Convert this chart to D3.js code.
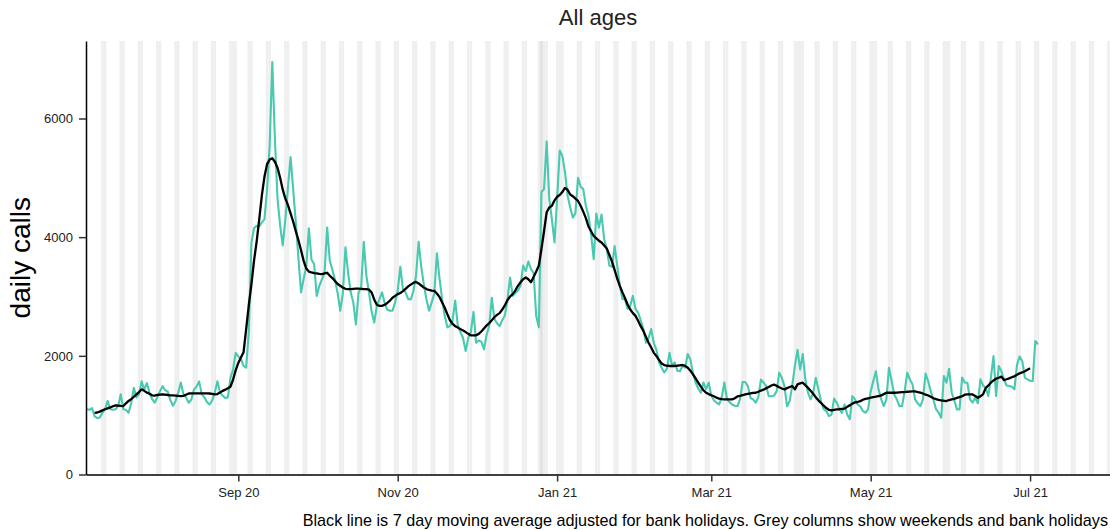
<!DOCTYPE html>
<html>
<head>
<meta charset="utf-8">
<script src="https://cdn.jsdelivr.net/npm/d3@7"></script>
<style>
  body { margin: 0; background: #fff; }
  text { font-family: "Liberation Sans", Arial, sans-serif; }
</style>
</head>
<body>
<div id="chart"></div>
<script>
// daily calls, one value per day starting 5 Jul 2020
var callsStart = "2020-07-05";
var dailyCalls = [
  1100, 1090, 1120, 980, 950, 960, 1040,
  1100, 1240, 1100, 1090, 1100, 1150, 1350,
  1100, 1090, 1040, 1200, 1460, 1300, 1350,
  1570, 1430, 1540, 1380, 1270, 1210, 1300,
  1400, 1490, 1420, 1400, 1250, 1160, 1240,
  1380, 1550, 1350, 1300, 1210, 1260, 1430,
  1480, 1570, 1350, 1300, 1220, 1180, 1250,
  1380, 1570, 1380, 1330, 1290, 1300, 1630,
  1770, 2050, 1990, 1950, 1830, 1800, 2400,
  3900, 4150, 4190, 4180, 4250, 4300, 4800,
  5550, 6950, 5650, 4650, 4200, 3860, 4300,
  4850, 5350, 4800, 4250, 3650, 3070, 3300,
  3500, 4150, 3620, 3550, 3010, 3180, 3290,
  3400, 4160, 3600, 3450, 3280, 3060, 2760,
  3050, 3830, 3400, 3070, 2900, 2530, 3060,
  3150, 3920, 3350, 3070, 2750, 2560, 2840,
  2950, 3070, 2890, 2780, 2760, 2760, 2900,
  3100, 3500, 3120, 3070, 2960, 2950, 3090,
  3350, 3920, 3500, 3200, 2950, 2760, 2900,
  3050, 3730, 3300, 2950, 2670, 2480, 2500,
  2600, 2930, 2500, 2400, 2300, 2080, 2300,
  2400, 2740, 2220, 2260, 2240, 2110, 2350,
  2500, 2980, 2620, 2550, 2500, 2600, 2680,
  2950, 3320, 3010, 3060, 3100, 3180, 3520,
  3430, 3590, 3460, 3400, 2670, 2480, 4760,
  4810, 5610, 4640, 4300, 3910, 4650, 5460,
  5370, 5100, 4700, 4500, 4330, 4400, 5000,
  4850, 4810, 4530, 4360, 4050, 3630, 4400,
  4160, 4380, 3970, 3800, 3520, 3500, 3850,
  3520, 3180, 2960, 2950, 2790, 2850, 3010,
  2790, 2730, 2600, 2450, 2220, 2300, 2450,
  2220, 2100, 1890, 1800, 1720, 1780, 2050,
  1830, 1890, 1750, 1740, 1830, 1800, 2030,
  1940, 1700, 1550, 1450, 1380, 1550, 1440,
  1550, 1330, 1250, 1210, 1180, 1300, 1550,
  1270, 1220, 1180, 1160, 1150, 1270, 1560,
  1560, 1490, 1290, 1266, 1210, 1300, 1600,
  1550, 1490, 1320, 1320, 1330, 1400, 1716,
  1630, 1490, 1150, 1240, 1500, 1830, 2100,
  1770, 2030, 1600, 1380, 1266, 1380, 1630,
  1435, 1230, 1100, 1070, 985, 1010, 1280,
  1210, 1100, 1040, 1180, 1013, 930, 1320,
  1266, 1180, 1150, 1070, 1041, 1097, 1400,
  1575, 1740, 1435, 1270, 1153, 1266, 1800,
  1580, 1350, 1266, 1153, 1153, 1400, 1716,
  1600, 1519, 1266, 1200, 1153, 1266, 1700,
  1570, 1400, 1266, 1100, 1041, 957, 1660,
  1547, 1783, 1378, 1250, 1097, 1097, 1632,
  1550, 1547, 1266, 1210, 1294, 1200, 1604,
  1500, 1463, 1322, 1632, 1997, 1322, 1829,
  1744, 1600, 1500, 1491, 1480, 1435, 1850,
  1990, 1913, 1632, 1604, 1580, 1575, 2251,
  2195
];

// 7 day moving average, one value per day starting 8 Jul 2020
var avgStart = "2020-07-08";
var movingAvg = [
  1040, 1045, 1060, 1080, 1100, 1115, 1130, 1150, 1165, 1160,
  1155, 1153, 1200, 1240, 1270, 1310, 1350, 1390, 1435, 1410,
  1380, 1360, 1335, 1330, 1340, 1345, 1350, 1345, 1340, 1335,
  1333, 1330, 1325, 1322, 1325, 1345, 1365, 1367, 1367, 1367,
  1367, 1367, 1367, 1367, 1365, 1360, 1352, 1355, 1380, 1410,
  1430, 1455, 1480, 1600, 1760, 1880, 1970, 2060, 2450, 2850,
  3200, 3600, 3920, 4300, 4700, 5020, 5230, 5310, 5330, 5270,
  5170, 5000, 4800, 4650, 4540, 4400, 4260, 4100, 3950, 3780,
  3600, 3470, 3420, 3405, 3395, 3390, 3380, 3378, 3390, 3400,
  3350, 3310, 3260, 3210, 3180, 3150, 3130, 3123, 3125, 3130,
  3134, 3134, 3130, 3125, 3123, 3115, 3070, 2950, 2860, 2842,
  2842, 2860, 2890, 2930, 2980, 3010, 3040, 3060, 3090, 3130,
  3170, 3200, 3230, 3246, 3220, 3185, 3150, 3125, 3110, 3100,
  3094, 3050, 2990, 2900, 2810, 2700, 2600, 2540, 2500, 2476,
  2450, 2425, 2400, 2370, 2346, 2346, 2346, 2370, 2410, 2460,
  2510, 2550, 2600, 2650, 2690, 2720, 2780, 2850, 2940, 3000,
  3040, 3100, 3180, 3240, 3290, 3320, 3290, 3240, 3330, 3420,
  3520, 3800, 4100, 4420, 4500, 4530, 4620, 4680, 4710, 4760,
  4830, 4800, 4720, 4690, 4650, 4610, 4530, 4430, 4320, 4180,
  4100, 4020, 3980, 3940, 3910, 3860, 3810, 3700, 3590, 3450,
  3300, 3180, 3070, 2970, 2860, 2780, 2720, 2673, 2590, 2500,
  2420, 2320, 2220, 2140, 2050, 1997, 1930, 1870, 1845, 1833,
  1829, 1829, 1829, 1833, 1840, 1846, 1830, 1800, 1750, 1688,
  1620, 1550, 1480, 1420, 1378, 1355, 1335, 1318, 1295, 1277,
  1270, 1266, 1266, 1266, 1266, 1285, 1315, 1325, 1338, 1350,
  1360, 1368, 1375, 1378, 1395, 1415, 1430, 1455, 1475, 1500,
  1515, 1495, 1470, 1450, 1435, 1455, 1475, 1490, 1435, 1519,
  1535, 1547, 1505, 1460, 1410, 1360, 1300, 1250, 1205, 1160,
  1120, 1090, 1080, 1090, 1097, 1100, 1105, 1110, 1140, 1165,
  1195, 1215, 1222, 1235, 1260, 1275, 1285, 1294, 1305, 1311,
  1322, 1333, 1355, 1378, 1378, 1378, 1378, 1380, 1385, 1388,
  1390, 1395, 1398, 1401, 1400, 1390, 1380, 1365, 1345, 1333,
  1310, 1285, 1270, 1258, 1249, 1243, 1238, 1255, 1266, 1275,
  1290, 1305, 1320, 1345, 1350, 1350, 1350, 1325, 1294, 1320,
  1350, 1455, 1500, 1547, 1585, 1615, 1630, 1649, 1592, 1605,
  1620, 1640, 1655, 1680, 1705, 1720, 1740, 1765, 1789
];

var bankHolidays = ["2020-08-31", "2020-12-25", "2020-12-26", "2020-12-28",
  "2021-01-01", "2021-04-02", "2021-04-05", "2021-05-03", "2021-05-31"];
var shadeFrom = "2020-07-06";
var shadeTo = "2021-08-01";

var xTicks = ["2020-09-01", "2020-11-01", "2021-01-01", "2021-03-01", "2021-05-01", "2021-07-01"];
var yTicks = [0, 2000, 4000, 6000];

var parse = d3.utcParse("%Y-%m-%d");

var width = 1110;
var height = 530;
var margin = { left: 86, right: 1110, top: 41, bottom: 474.5 };

var svg = d3.select("#chart")
  .append("svg")
  .attr("width", width)
  .attr("height", height);

var x = d3.scaleUtc()
  .domain([Date.UTC(2020, 6, 4, 17), Date.UTC(2021, 6, 31, 14)])
  .range([margin.left, margin.right]);

var y = d3.scaleLinear()
  .domain([0, 7306])
  .range([margin.bottom, margin.top]);

// grey columns: weekends, then bank holidays
var weekendDays = d3.utcDay.range(parse(shadeFrom), parse(shadeTo)).filter(function (d) {
  return d.getUTCDay() === 0 || d.getUTCDay() === 6;
});

function column(fill) {
  return function (sel) {
    sel.attr("x", function (d) { return x(d3.utcHour.offset(d, -12)); })
      .attr("width", function (d) { return x(d3.utcHour.offset(d, 12)) - x(d3.utcHour.offset(d, -12)); })
      .attr("y", margin.top)
      .attr("height", margin.bottom - margin.top)
      .style("fill", fill);
  };
}

svg.append("g")
  .selectAll("rect")
  .data(weekendDays)
  .enter()
  .append("rect")
  .call(column("#efefef"));

svg.append("g")
  .selectAll("rect")
  .data(bankHolidays.map(parse))
  .enter()
  .append("rect")
  .call(column("#000"))
  .style("fill-opacity", 0.06);

function series(start, values) {
  var s = parse(start);
  return values.map(function (v, i) {
    return { date: d3.utcDay.offset(s, i), value: v };
  });
}

var line = d3.line()
  .x(function (d) { return x(d.date); })
  .y(function (d) { return y(d.value); });

svg.append("path")
  .datum(series(callsStart, dailyCalls))
  .attr("d", line)
  .style("fill", "none")
  .style("stroke", "#48c9b0")
  .style("stroke-width", 2.1)
  .style("stroke-linejoin", "round");

svg.append("path")
  .datum(series(avgStart, movingAvg))
  .attr("d", line)
  .style("fill", "none")
  .style("stroke", "#000")
  .style("stroke-width", 2.3)
  .style("stroke-linejoin", "round");

// axes
svg.append("g")
  .attr("transform", "translate(0," + margin.bottom + ")")
  .call(d3.axisBottom(x)
    .tickValues(xTicks.map(parse))
    .tickFormat(d3.utcFormat("%b %y"))
    .tickSize(7)
    .tickSizeOuter(0)
    .tickPadding(6));

svg.append("g")
  .attr("transform", "translate(" + margin.left + ",0)")
  .call(d3.axisLeft(y)
    .tickValues(yTicks)
    .tickFormat(d3.format("d"))
    .tickSize(7)
    .tickSizeOuter(0)
    .tickPadding(6));

svg.selectAll(".domain")
  .style("stroke", "#000")
  .style("stroke-width", 1.5);
svg.selectAll(".tick line")
  .style("stroke", "#333")
  .style("stroke-width", 1.5);
svg.selectAll(".tick text")
  .style("font-size", "13px")
  .style("fill", "#222");

svg.append("text")
  .attr("x", (margin.left + margin.right) / 2)
  .attr("y", 25)
  .attr("text-anchor", "middle")
  .style("font-size", "22px")
  .style("fill", "#222")
  .text("All ages");

svg.append("text")
  .attr("transform", "translate(30," + (margin.top + margin.bottom) / 2 + ") rotate(-90)")
  .attr("text-anchor", "middle")
  .style("font-size", "28px")
  .style("fill", "#000")
  .text("daily calls");

svg.append("text")
  .attr("x", 1108)
  .attr("y", 526)
  .attr("text-anchor", "end")
  .style("font-size", "16.2px")
  .style("fill", "#000")
  .text("Black line is 7 day moving average adjusted for bank holidays. Grey columns show weekends and bank holidays");
</script>
</body>
</html>
